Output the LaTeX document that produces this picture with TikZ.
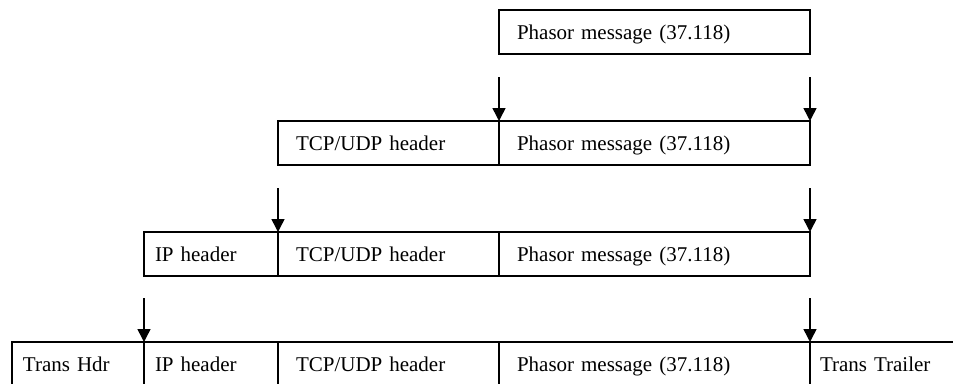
\documentclass[tikz,border=0pt]{standalone}
\usepackage{fontspec}
\setmainfont{Liberation Serif}
\usetikzlibrary{arrows.meta}
\begin{document}
\begin{tikzpicture}[x=1pt,y=-1pt,
  cell/.style={draw, rectangle, line width=1.5pt, anchor=north west,
    outer sep=0pt, minimum height=44pt, inner ysep=0pt, align=left,
    text height=14pt, text depth=0pt,
    font=\fontsize{21}{24}\selectfont},
  wide/.style={inner xsep=18pt, text width=#1},
  narrow/.style={inner xsep=11pt, text width=#1},
  arr/.style={line width=1.5pt, -{Triangle[length=13pt,width=13pt]}}
]
\useasboundingbox (0,0) rectangle (953,383);
\clip (0,0) rectangle (953,383);

% level 1: application payload
\node[cell, wide=275pt] (pa) at (499,10) {Phasor message (37.118)};

% level 2: transport layer
\node[cell, wide=185pt] (tb) at (278,121) {TCP/UDP header};
\node[cell, wide=275pt] (pb) at (499,121) {Phasor message (37.118)};

% level 3: network layer
\node[cell, narrow=112pt] (ic) at (144,232) {IP header};
\node[cell, wide=185pt] (tc) at (278,232) {TCP/UDP header};
\node[cell, wide=275pt] (pc) at (499,232) {Phasor message (37.118)};

% level 4: link layer framing
\node[cell, narrow=110pt] (hd) at (12,342) {Trans Hdr};
\node[cell, narrow=112pt] (id) at (144,342) {IP header};
\node[cell, wide=185pt] (td) at (278,342) {TCP/UDP header};
\node[cell, wide=275pt] (pd) at (499,342) {Phasor message (37.118)};
\node[cell, inner xsep=10pt, text width=150pt] (tr) at (810,342) {Trans Trailer};

% encapsulation arrows: each starts 44pt above the edge it points to
\path (pb.north west) ++(0,-44) coordinate (a1);
\path (pb.north east) ++(0,-44) coordinate (a2);
\path (tc.north west) ++(0,-44) coordinate (b1);
\path (pc.north east) ++(0,-44) coordinate (b2);
\path (id.north west) ++(0,-44) coordinate (c1);
\path (pd.north east) ++(0,-44) coordinate (c2);
\draw[arr] (a1) -- (pb.north west);
\draw[arr] (a2) -- (pb.north east);
\draw[arr] (b1) -- (tc.north west);
\draw[arr] (b2) -- (pc.north east);
\draw[arr] (c1) -- (id.north west);
\draw[arr] (c2) -- (pd.north east);
\end{tikzpicture}
\end{document}
